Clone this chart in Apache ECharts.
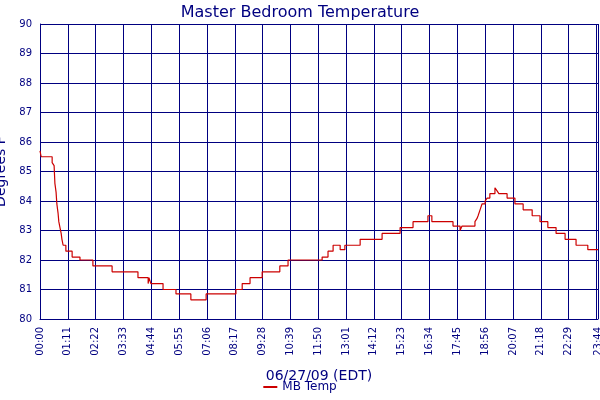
<!DOCTYPE html>
<html><head><meta charset="utf-8">
<script src="https://cdn.jsdelivr.net/npm/echarts@6/dist/echarts.min.js"></script>
<style>html,body{margin:0;padding:0;background:#fff}#c{width:600px;height:400px}</style>
</head><body><div id="c"></div>
<script>
// minutes after midnight, temperature (°F) starting at that minute
const times = [0,3,31,36,38,41,43,46,48,51,54,56,59,66,82,102,135,184,250,276,278,283,314,347,385,424,500,516,536,567,612,633,720,735,748,766,778,817,873,919,952,990,1000,1054,1072,1077,1110,1115,1118,1123,1128,1136,1141,1148,1161,1166,1171,1192,1212,1233,1256,1276,1296,1317,1340,1368,1398,1424];
const temps = [85.7,85.5,85.3,85.2,84.6,84.3,83.9,83.6,83.3,83.1,82.9,82.7,82.5,82.3,82.1,82.0,81.8,81.6,81.4,81.2,81.4,81.2,81.0,80.85,80.65,80.85,81.0,81.2,81.4,81.6,81.8,82.0,82.1,82.3,82.5,82.35,82.5,82.7,82.9,83.1,83.3,83.5,83.3,83.15,83.0,83.15,83.3,83.4,83.5,83.7,83.9,84.0,84.1,84.25,84.45,84.35,84.25,84.1,83.9,83.7,83.5,83.3,83.1,82.9,82.7,82.5,82.35,82.35];
const seriesName = 'MB Temp';
const titleText = 'Master Bedroom Temperature';
const xName = '06/27/09 (EDT)';
const yName = 'Degrees F';
const navy = '#000080';
const fmt = m => String(Math.floor(m/60)).padStart(2,'0') + ':' + String(m%60).padStart(2,'0');
const chart = echarts.init(document.getElementById('c'));
chart.setOption({
  animation:false,
  backgroundColor:'#fff',
  title:{text:titleText,left:'center',top:0,textStyle:{color:navy,fontFamily:'DejaVu Sans',fontSize:16,fontWeight:'normal'}},
  grid:{left:40,right:2,top:24,bottom:81,containLabel:false,outerBoundsMode:'none'},
  legend:{bottom:2,left:'center',itemWidth:14,itemHeight:2,icon:'rect',textStyle:{color:navy,fontFamily:'DejaVu Sans',fontSize:12},data:[seriesName]},
  xAxis:{type:'value',min:0,max:1424,interval:71,name:xName,nameLocation:'middle',nameGap:50,
    nameTextStyle:{color:navy,fontFamily:'DejaVu Sans',fontSize:14},
    axisLine:{lineStyle:{color:navy}},axisTick:{show:false},
    axisLabel:{rotate:90,color:navy,fontFamily:'DejaVu Sans',fontSize:10,formatter:v=>fmt(v),showMaxLabel:true,hideOverlap:false},
    splitLine:{lineStyle:{color:navy,width:1}}},
  yAxis:{type:'value',min:80,max:90,interval:1,name:yName,nameLocation:'middle',nameGap:24,
    nameTextStyle:{color:navy,fontFamily:'DejaVu Sans',fontSize:14},
    axisLine:{show:true,lineStyle:{color:navy}},axisTick:{show:false},
    axisLabel:{color:navy,fontFamily:'DejaVu Sans',fontSize:10},
    splitLine:{lineStyle:{color:navy,width:1}}},
  series:[{name:seriesName,type:'line',step:'end',symbol:'none',
    lineStyle:{color:'#cc0000',width:1.2},itemStyle:{color:'#cc0000'},
    data:times.map((t,i)=>[t,temps[i]])}]
});
</script></body></html>
